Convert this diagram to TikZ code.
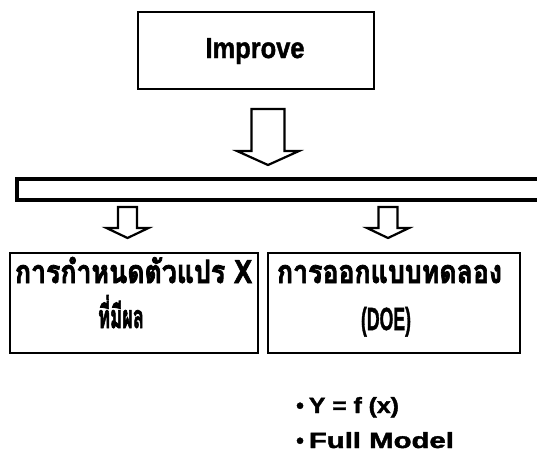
\documentclass[tikz,border=0pt]{standalone}
\usepackage{fontspec}
\usepackage{graphicx}
\usetikzlibrary{calc}
\setmainfont[BoldFeatures={FakeBold=1.6}]{Liberation Sans}
\newfontfamily\thaifont[Script=Thai, FakeBold=2.6]{Loma}
% stretch or squeeze a text horizontally to a given width
\newcommand\hfit[2]{\resizebox{#1}{\height}{#2}}
\tikzset{
  frame/.style={draw=black, line width=2.6pt, fill=white},
  blockarrow/.style={draw=black, line width=2.2pt, fill=white, line join=miter},
  label/.style={inner sep=0pt, anchor=base, font=\bfseries},
}
\begin{document}
\begin{tikzpicture}[x=1pt, y=-1pt]
\useasboundingbox (0,0) rectangle (537,455);
\fill[white] (0,0) rectangle (537,455);

% top box
\node[frame, minimum width=236pt, minimum height=77pt, inner sep=0pt] (improve) at (256,50.5) {};
\node[label] (improvetxt) at (255,58) {\fontsize{29}{29}\selectfont\hfit{99pt}{Improve}};

% arrow from the top box down to the bar
\coordinate (a0) at (268,109);
\draw[blockarrow] ($(a0)+(-16.5,0)$) -- ($(a0)+(16.5,0)$) -- ($(a0)+(16.5,42)$) -- ($(a0)+(31,42)$)
  -- ($(a0)+(0,56)$) -- ($(a0)+(-31,42)$) -- ($(a0)+(-16.5,42)$) -- cycle;

% the wide bar, open at its right end
\coordinate (barL) at (17,179);
\draw[line width=3.4pt, fill=white] (537,179) -- (barL) -- (17,200) -- (537,200);

% two small arrows below the bar
\coordinate (b1) at (127.5,207);
\coordinate (b2) at (388,207);
\foreach \c in {b1,b2}{
  \draw[blockarrow] ($(\c)+(-9.5,0)$) -- ($(\c)+(9.5,0)$) -- ($(\c)+(9.5,21)$) -- ($(\c)+(21,21)$)
    -- ($(\c)+(0,31)$) -- ($(\c)+(-21,21)$) -- ($(\c)+(-9.5,21)$) -- cycle;
}

% left box
\node[frame, minimum width=248pt, minimum height=100pt, inner sep=0pt] (xbox) at (134,303) {};
\node[label] (x1) at (133.5,283) {\thaifont\fontsize{32}{32}\selectfont\hfit{237pt}{การกำหนดตัวแปร X}};
\node[label] (x2) at (121,328) {\thaifont\fontsize{32}{32}\selectfont\hfit{46pt}{ที่มีผล}};

% right box
\node[frame, minimum width=252pt, minimum height=100pt, inner sep=0pt] (doebox) at (394,303) {};
\node[label] (d1) at (389.5,283) {\thaifont\fontsize{32}{32}\selectfont\hfit{225pt}{การออกแบบทดลอง}};
\node[label] (d2) at (386,330) {\fontsize{32}{32}\selectfont\hfit{50pt}{(DOE)}};

% bullet list
\node[label, anchor=base west] (l1) at (296,413) {\fontsize{22}{22}\selectfont\textbullet\hspace{5pt}\hfit{90pt}{Y = f (x)}};
\node[label, anchor=base west] (l2) at (296,448) {\fontsize{22}{22}\selectfont\textbullet\hspace{5pt}\hfit{145pt}{Full Model}};
\end{tikzpicture}
\end{document}
